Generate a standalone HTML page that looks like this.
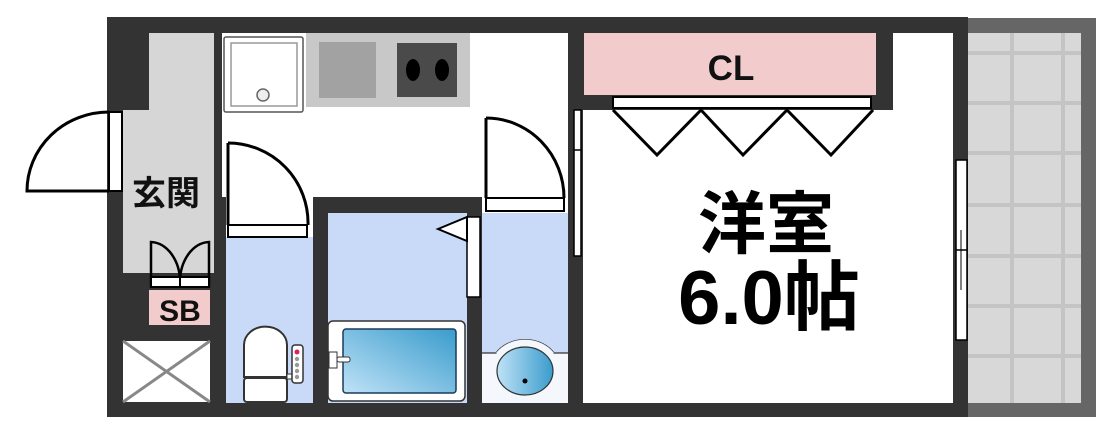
<!DOCTYPE html>
<html><head><meta charset="utf-8"><style>
html,body{margin:0;padding:0;background:#fff;}
svg{display:block;}
text{font-family:"Liberation Sans","Noto Sans CJK JP",sans-serif;font-weight:bold;}
</style></head><body>
<svg width="1113" height="435" viewBox="0 0 1113 435" xmlns="http://www.w3.org/2000/svg">
<defs>
<linearGradient id="tub" x1="0" y1="1" x2="1" y2="0"><stop offset="0" stop-color="#bfe2f7"/><stop offset="1" stop-color="#3a9ccc"/></linearGradient>
<linearGradient id="bas" x1="0" y1="0" x2="1" y2="0"><stop offset="0" stop-color="#bfe2f7"/><stop offset="1" stop-color="#3a9ccc"/></linearGradient>
</defs>
<rect x="968" y="18" width="128" height="399" fill="#666"/>
<rect x="968" y="33" width="113" height="370" fill="#d8d8d8"/>
<g stroke="#c4c4c4" stroke-width="4">
<line x1="1012" y1="33" x2="1012" y2="403"/><line x1="1063" y1="33" x2="1063" y2="403"/>
<line x1="968" y1="53" x2="1081" y2="53"/><line x1="968" y1="103" x2="1081" y2="103"/>
<line x1="968" y1="153" x2="1081" y2="153"/><line x1="968" y1="205" x2="1081" y2="205"/>
<line x1="968" y1="256" x2="1081" y2="256"/><line x1="968" y1="306" x2="1081" y2="306"/>
<line x1="968" y1="356" x2="1081" y2="356"/>
</g>
<rect x="107" y="17" width="861" height="400" fill="#333"/>
<rect x="149" y="33" width="65" height="78" fill="#d6d6d6"/>
<rect x="123" y="110" width="91" height="163" fill="#d6d6d6"/>
<rect x="222" y="33" width="346" height="164" fill="#fff"/>
<rect x="226" y="197" width="87" height="40" fill="#fff"/>
<rect x="482" y="197" width="86" height="16" fill="#fff"/>
<rect x="226" y="237" width="87" height="166" fill="#c9daf8"/>
<rect x="328" y="213" width="139" height="190" fill="#c9daf8"/>
<rect x="482" y="213" width="86" height="140" fill="#c9daf8"/>
<rect x="482" y="353" width="86" height="50" fill="#f4f8fd"/>
<rect x="583" y="33" width="370" height="370" fill="#fff"/>
<rect x="568" y="17" width="325" height="93" fill="#333"/>
<rect x="584" y="33" width="292" height="62" fill="#f2cccc"/>
<text x="731" y="80" font-size="35" text-anchor="middle" fill="#111">CL</text>
<rect x="613" y="97" width="258" height="11" fill="#fff" stroke="#000" stroke-width="2"/>
<polyline points="613,110 657,155 701,110 743,155 787,110 831,155 873,110" fill="none" stroke="#000" stroke-width="3"/>
<rect x="956" y="160" width="11" height="180" fill="#fff" stroke="#000" stroke-width="1.5"/>
<line x1="956" y1="250" x2="967" y2="250" stroke="#000" stroke-width="1.5"/>
<line x1="961" y1="230" x2="961" y2="290" stroke="#000" stroke-width="1"/>
<rect x="574" y="110" width="7" height="146" fill="#fff" stroke="#000" stroke-width="1.5"/>
<line x1="574" y1="150" x2="581" y2="150" stroke="#000" stroke-width="1.5"/>
<text x="766" y="248" font-size="68" text-anchor="middle" fill="#000">洋室</text>
<text x="769" y="324" font-size="76" text-anchor="middle" fill="#000">6.0帖</text>
<rect x="224" y="37" width="79" height="75" rx="2" fill="#fff" stroke="#555" stroke-width="1.5"/>
<rect x="231" y="43" width="66" height="63" fill="none" stroke="#999" stroke-width="1.5"/>
<circle cx="263" cy="95" r="6" fill="#eee" stroke="#666" stroke-width="1.5"/>
<rect x="306" y="33" width="164" height="74" fill="#c8c8c8"/>
<rect x="319" y="42" width="57" height="56" fill="#a2a2a2"/>
<rect x="397" y="43" width="60" height="54" fill="#4a4a4a"/>
<ellipse cx="413" cy="70" rx="7" ry="11" fill="#000"/><ellipse cx="442" cy="70" rx="7" ry="11" fill="#000"/>
<path d="M228,143 A80,80 0 0 1 308,225" fill="none" stroke="#000" stroke-width="3"/>
<line x1="228" y1="143" x2="228" y2="225" stroke="#000" stroke-width="3"/>
<rect x="228" y="225" width="79" height="12" fill="#fff" stroke="#000" stroke-width="2"/>
<path d="M486,118 A78,80 0 0 1 564,198" fill="none" stroke="#000" stroke-width="3"/>
<line x1="486" y1="118" x2="486" y2="198" stroke="#000" stroke-width="3"/>
<rect x="486" y="198" width="78" height="13" fill="#fff" stroke="#000" stroke-width="2"/>
<rect x="467" y="217" width="13" height="80" fill="#fff" stroke="#000" stroke-width="1.5"/>
<polygon points="438,229 467,217 467,241" fill="#fff" stroke="#000" stroke-width="2"/>
<rect x="109" y="112" width="13" height="79" fill="#fff" stroke="#000" stroke-width="2"/>
<path d="M109,112 A82,79 0 0 0 27,191 L109,191" fill="none" stroke="#000" stroke-width="3"/>
<text x="166" y="205" font-size="34" text-anchor="middle" fill="#111">玄関</text>
<path d="M151,287 V242 A30,40 0 0 1 180,283 M209,287 V242 A30,40 0 0 0 180,283" fill="none" stroke="#000" stroke-width="2.5"/>
<rect x="151" y="277" width="58" height="10" fill="#fff" stroke="#000" stroke-width="2"/>
<line x1="180" y1="277" x2="180" y2="287" stroke="#000" stroke-width="2"/>
<rect x="149" y="290" width="61" height="35" fill="#f2cccc"/>
<text x="180" y="321" font-size="30" text-anchor="middle" fill="#111">SB</text>
<rect x="123" y="341" width="87" height="61" fill="#fff"/>
<path d="M123,341 L210,402 M210,341 L123,402" stroke="#888" stroke-width="3"/>
<path d="M244,377 V345 A21,18 0 0 1 287,345 V377 Z" fill="#fff" stroke="#333" stroke-width="2"/>
<rect x="244" y="378" width="43" height="24" rx="3" fill="#fff" stroke="#333" stroke-width="2"/>
<rect x="287" y="374" width="10" height="5" fill="#fff" stroke="#333" stroke-width="1"/>
<rect x="292" y="345" width="11" height="38" rx="3" fill="#fff" stroke="#333" stroke-width="1.5"/>
<circle cx="297" cy="352" r="2.5" fill="#e0205a"/>
<circle cx="297" cy="359" r="2.2" fill="#999"/><circle cx="297" cy="365" r="2.2" fill="#999"/><circle cx="297" cy="371" r="2.2" fill="#999"/><circle cx="297" cy="377" r="2.2" fill="#999"/>
<rect x="328" y="321" width="137" height="80" rx="5" fill="#fff" stroke="#333" stroke-width="1.5"/>
<rect x="343" y="329" width="113" height="64" rx="3" fill="url(#tub)" stroke="#1a3a5a" stroke-width="1.5"/>
<rect x="329" y="352" width="8" height="16" fill="#fff" stroke="#333" stroke-width="1"/>
<rect x="337" y="357" width="13" height="5" rx="2" fill="#fff" stroke="#333" stroke-width="1"/>
<path d="M482,353 H496 A34,28 0 0 1 554,353 H568" fill="none" stroke="#333" stroke-width="1.2"/>
<path d="M496,353 A34,28 0 0 1 554,353" fill="#f4f8fd"/>
<ellipse cx="525" cy="371" rx="28" ry="24" fill="url(#bas)" stroke="#333" stroke-width="1.2"/>
<circle cx="525" cy="381" r="2.5" fill="#000"/>
</svg>
</body></html>
